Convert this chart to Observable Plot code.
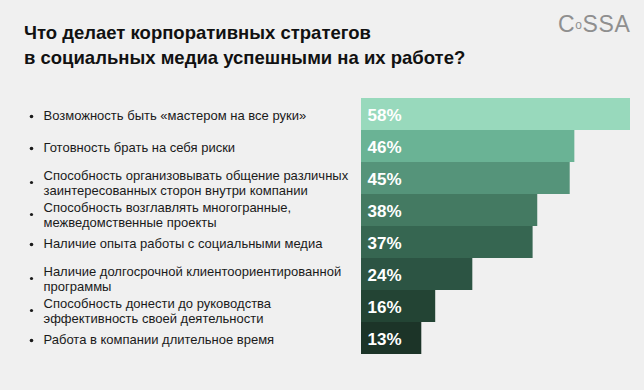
<!DOCTYPE html>
<html>
<head>
<meta charset="utf-8">
<script src="https://cdn.jsdelivr.net/npm/d3@7"></script>
<script src="https://cdn.jsdelivr.net/npm/@observablehq/plot@0.6"></script>
<style>
  html, body { margin: 0; padding: 0; background: #f0f0f0; }
  #wrap { position: relative; width: 644px; height: 390px; background: #f0f0f0; overflow: hidden;
          font-family: "Liberation Sans", Arial, Helvetica, sans-serif; }
  #header { position: relative; height: 85px; }
  #title { position: absolute; left: 24px; top: 20px; margin: 0; font-size: 18.5px; line-height: 25px;
           font-weight: bold; color: #111; }
  #logo { position: absolute; left: 558px; top: 9px; font-size: 23px; color: #8f8f8f; font-weight: 300;
          letter-spacing: 0.6px; line-height: 30px; }
  #logo .o { font-size: 12px; vertical-align: 3px; letter-spacing: 0.6px; }
  #chart svg { display: block; }
</style>
</head>
<body>
<div id="wrap">
  <div id="header">
    <div id="title">Что делает корпоративных стратегов<br>в социальных медиа успешными на их работе?</div>
    <div id="logo">C<span class="o">o</span>SSA</div>
  </div>
  <div id="chart"></div>
</div>
<script>
const labels = [
  "Возможность быть «мастером на все руки»",
  "Готовность брать на себя риски",
  "Способность организовывать общение различных\nзаинтересованных сторон внутри компании",
  "Способность возглавлять многогранные,\nмежведомственные проекты",
  "Наличие опыта работы с социальными медиа",
  "Наличие долгосрочной клиентоориентированной\nпрограммы",
  "Способность донести до руководства\nэффективность своей деятельности",
  "Работа в компании длительное время"
];
const values = [58, 46, 45, 38, 37, 24, 16, 13];
const palette = ["#98d9bc", "#6ab395", "#55947a", "#447a62", "#366651", "#2c5443", "#234434", "#1c3428"];

const data = labels.map((label, i) => ({label, value: values[i]}));
const single = data.filter(d => !d.label.includes("\n"));
const double = data.filter(d => d.label.includes("\n"));

const font = "Liberation Sans, Arial, Helvetica, sans-serif";

const chart = Plot.plot({
  width: 644,
  height: 305,
  marginTop: 12,
  marginBottom: 36,
  marginLeft: 361,
  marginRight: 14,
  style: {background: "#f0f0f0", fontFamily: font},
  x: {domain: [0, 58], axis: null},
  y: {domain: labels, padding: 0, axis: null},
  color: {domain: labels, range: palette},
  marks: [
    Plot.barX(data, {x: "value", y: "label", fill: "label"}),
    Plot.text(data, {x: 0, y: "label", text: d => d.value + "%", textAnchor: "start", dx: 6, dy: 1.5,
      fill: "white", fontSize: 17, fontWeight: "bold"}),
    Plot.text(single, {y: "label", text: "label", frameAnchor: "left", textAnchor: "start", dx: -318, dy: 1,
      fill: "#1a1a1a", fontSize: 13}),
    Plot.text(double, {y: "label", text: "label", frameAnchor: "left", textAnchor: "start", dx: -318, dy: 4.5,
      lineHeight: 1.1, fill: "#1a1a1a", fontSize: 13}),
    Plot.dot(single, {y: "label", frameAnchor: "left", dx: -330, dy: 2, r: 1.8, fill: "#1a1a1a", stroke: null}),
    Plot.dot(double, {y: "label", frameAnchor: "left", dx: -330, dy: 4, r: 1.6, fill: "#1a1a1a", stroke: null})
  ]
});
document.getElementById("chart").appendChild(chart);
</script>
</body>
</html>
